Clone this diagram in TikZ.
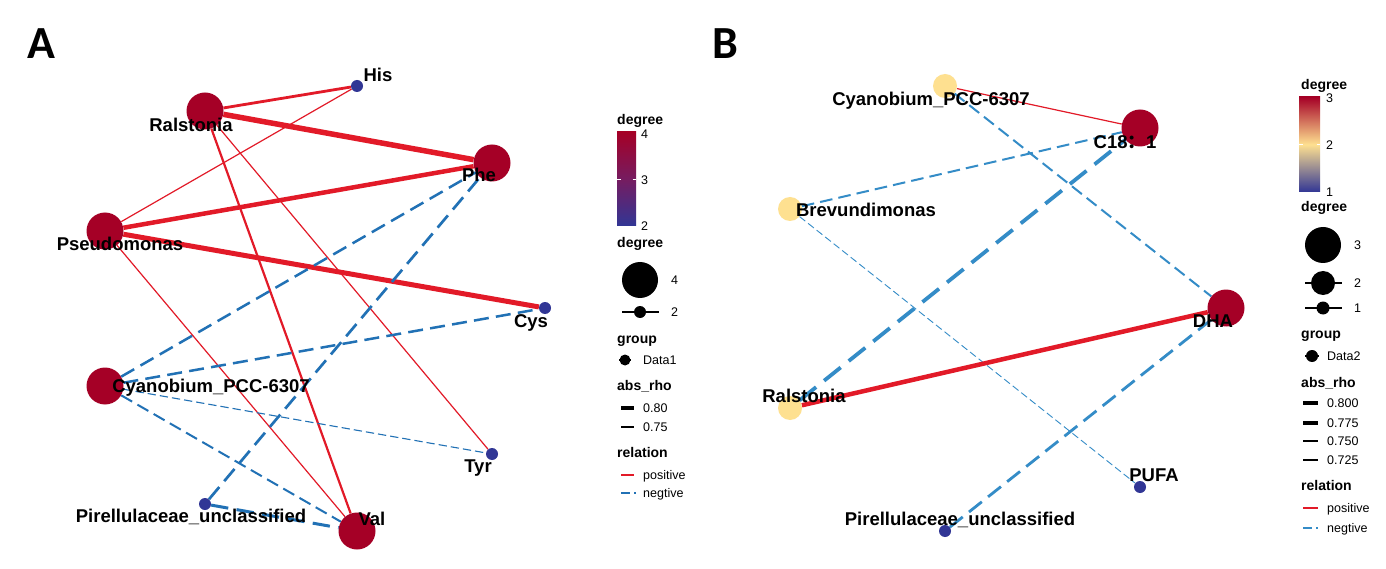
\documentclass[tikz,border=0pt]{standalone}
\usepackage{fontspec}
\setmainfont{Liberation Sans}
\newfontfamily\panelfont{Carlito}
\newfontfamily\cjk{Noto Sans CJK SC}
\usetikzlibrary{backgrounds}
\definecolor{hubred}{RGB}{165, 0, 38}
\definecolor{leafblue}{RGB}{49, 54, 149}
\definecolor{midyellow}{RGB}{254, 224, 144}
\definecolor{midpurple}{RGB}{118, 28, 96}
\definecolor{posred}{RGB}{226, 26, 40}
\definecolor{negblueA}{RGB}{33, 113, 181}
\definecolor{negblueB}{RGB}{52, 140, 199}

\begin{document}
\begin{tikzpicture}[
    x=1pt, y=-1pt,
    bignode/.style={circle, fill=hubred, inner sep=0pt, minimum size=37pt},
    midnode/.style={circle, fill=midyellow, inner sep=0pt, minimum size=24pt},
    smallnode/.style={circle, fill=leafblue, inner sep=0pt, minimum size=12pt},
    nodelab/.style={font=\fontsize{18.5}{20}\selectfont\bfseries, inner sep=0pt,
                    text height=13.2pt, text depth=0pt},
    posedge/.style={draw=posred, line width=#1},
    negedge/.style={draw=negblueA, line width=#1,
                    dash pattern=on 3pt+4.8*#1 off 1.5pt+2.3*#1},
    negedgeB/.style={negedge=#1, draw=negblueB},
    legtitle/.style={font=\fontsize{14}{16}\selectfont\bfseries, anchor=west,
                     inner sep=0pt, text height=10pt, text depth=0pt},
    legtext/.style={font=\fontsize{12.5}{14}\selectfont, anchor=west,
                    inner sep=0pt, text height=9pt, text depth=0pt},
    keydot/.style={circle, fill=black, inner sep=0pt, minimum size=#1},
    panel/.style={font=\panelfont\fontsize{46}{48}\selectfont\bfseries, inner sep=0pt,
                  text height=29pt, text depth=0pt}
]
\useasboundingbox (0,0) rectangle (1386,569);
\begin{scope}[on background layer]
    \fill[white] (0,0) rectangle (1386,569);
\end{scope}

% Panel A
\node[panel] (panelA) at (41,44) {A};

\node[smallnode] (heA) at (357,86) {};
\node[bignode] (raA) at (205,111) {};
\node[bignode] (phA) at (492,163) {};
\node[bignode] (psA) at (105,231) {};
\node[smallnode] (csA) at (545,308) {};
\node[bignode] (cyA) at (105,386) {};
\node[smallnode] (tyA) at (492,454) {};
\node[smallnode] (piA) at (205,504) {};
\node[bignode] (vaA) at (357,531) {};

\begin{scope}[on background layer]
    \draw[posedge=5.5pt] (raA) -- (phA);
    \draw[posedge=4.5pt] (psA) -- (phA);
    \draw[posedge=5pt] (psA) -- (csA);
    \draw[posedge=2.8pt] (raA) -- (heA);
    \draw[posedge=1.2pt] (psA) -- (heA);
    \draw[posedge=2.2pt] (raA) -- (vaA);
    \draw[posedge=1.2pt] (raA) -- (tyA);
    \draw[posedge=1.2pt] (psA) -- (vaA);
    \draw[negedge=2.5pt] (cyA) -- (phA);
    \draw[negedge=2.5pt] (cyA) -- (csA);
    \draw[negedge=1.1pt] (cyA) -- (tyA);
    \draw[negedge=2pt] (cyA) -- (vaA);
    \draw[negedge=2.7pt] (piA) -- (phA);
    \draw[negedge=3pt] (piA) -- (vaA);
\end{scope}

\node[nodelab] (heA-lab) at (378,75) {His};
\node[nodelab] (raA-lab) at (191,125) {Ralstonia};
\node[nodelab] (phA-lab) at (479,175) {Phe};
\node[nodelab] (psA-lab) at (120,244) {Pseudomonas};
\node[nodelab] (csA-lab) at (531,321) {Cys};
\node[nodelab] (cyA-lab) at (211,386) {Cyanobium\_PCC-6307};
\node[nodelab] (tyA-lab) at (478,466) {Tyr};
\node[nodelab] (piA-lab) at (191,516) {Pirellulaceae\_unclassified};
\node[nodelab] (vaA-lab) at (372,519) {Val};

% Legend A
\node[legtitle] (colA-title) at (617,120) {degree};
\shade[top color=hubred, bottom color=leafblue, middle color=midpurple] (617,132) rectangle (636,226);
\draw[white, line width=0.6pt] (617,179) -- (620.5,179) (632.5,179) -- (636,179);
\node[legtext] (colA-4) at (641,134) {4};
\node[legtext] (colA-3) at (641,180) {3};
\node[legtext] (colA-2) at (641,226) {2};

\node[legtitle] (sizeA-title) at (617,243) {degree};
\node[keydot=36pt] (sizeA-4) at (640,280) {};
\node[legtext] (sizeA-4-lab) at (671,280) {4};
\draw[line width=1.2pt] (622,312) -- (659,312);
\node[keydot=12pt] (sizeA-2) at (640,312) {};
\node[legtext] (sizeA-2-lab) at (671,312) {2};

\node[legtitle] (groupA-title) at (617,338) {group};
\draw[line width=1.2pt] (619,360) -- (631,360);
\node[keydot=11pt] (groupA-dot) at (625,360) {};
\node[legtext] (groupA-lab) at (643,360) {Data1};

\node[legtitle] (rhoA-title) at (617,385) {abs\_rho};
\draw[line width=4pt] (621,408) -- (634,408);
\node[legtext] (rhoA-80) at (643,408) {0.80};
\draw[line width=2.8pt] (621,427) -- (634,427);
\node[legtext] (rhoA-75) at (643,427) {0.75};

\node[legtitle] (relA-title) at (617,452) {relation};
\draw[posedge=1.2pt] (621,475) -- (634,475);
\node[legtext] (relA-pos) at (643,475) {positive};
\draw[negedge=1.2pt] (621,493) -- (636,493);
\node[legtext] (relA-neg) at (643,493) {negtive};

% Panel B
\node[panel] (panelB) at (725,44) {B};

\node[midnode] (cyB) at (945,86) {};
\node[bignode] (c18B) at (1140,128) {};
\node[midnode] (brB) at (790,209) {};
\node[bignode] (dhB) at (1226,308) {};
\node[midnode] (raB) at (790,408) {};
\node[smallnode] (puB) at (1140,487) {};
\node[smallnode] (piB) at (945,531) {};

\begin{scope}[on background layer]
    \draw[posedge=1.2pt] (cyB) -- (c18B);
    \draw[negedgeB=2pt] (cyB) -- (dhB);
    \draw[negedgeB=2pt] (brB) -- (c18B);
    \draw[negedgeB=0.9pt] (brB) -- (puB);
    \draw[negedgeB=3.8pt] (raB) -- (c18B);
    \draw[posedge=4.5pt] (raB) -- (dhB);
    \draw[negedgeB=2.8pt] (piB) -- (dhB);
\end{scope}

\node[nodelab] (cyB-lab) at (931,99) {Cyanobium\_PCC-6307};
\node[nodelab] (c18B-lab) at (1125,142) {C18{\cjk\bfseries ：}1};
\node[nodelab] (brB-lab) at (866,210) {Brevundimonas};
\node[nodelab] (dhB-lab) at (1213,321) {DHA};
\node[nodelab] (raB-lab) at (804,396) {Ralstonia};
\node[nodelab] (puB-lab) at (1154,475) {PUFA};
\node[nodelab] (piB-lab) at (960,519) {Pirellulaceae\_unclassified};

% Legend B
\node[legtitle] (colB-title) at (1301,85) {degree};
\shade[top color=hubred, bottom color=leafblue, middle color=midyellow] (1299,97) rectangle (1320,192);
\draw[white, line width=0.6pt] (1299,144.5) -- (1302.5,144.5) (1316.5,144.5) -- (1320,144.5);
\node[legtext] (colB-3) at (1326,98) {3};
\node[legtext] (colB-2) at (1326,145) {2};
\node[legtext] (colB-1) at (1326,192) {1};

\node[legtitle] (sizeB-title) at (1301,207) {degree};
\node[keydot=36pt] (sizeB-3) at (1323,245) {};
\node[legtext] (sizeB-3-lab) at (1354,245) {3};
\draw[line width=1.2pt] (1305,283) -- (1342,283);
\node[keydot=24pt] (sizeB-2) at (1323,283) {};
\node[legtext] (sizeB-2-lab) at (1354,283) {2};
\draw[line width=1.2pt] (1305,308) -- (1342,308);
\node[keydot=13pt] (sizeB-1) at (1323,308) {};
\node[legtext] (sizeB-1-lab) at (1354,308) {1};

\node[legtitle] (groupB-title) at (1301,333) {group};
\draw[line width=1.2pt] (1305,356) -- (1319,356);
\node[keydot=12pt] (groupB-dot) at (1312,356) {};
\node[legtext] (groupB-lab) at (1327,356) {Data2};

\node[legtitle] (rhoB-title) at (1301,382) {abs\_rho};
\draw[line width=4.5pt] (1303,403) -- (1318,403);
\node[legtext] (rhoB-800) at (1327,403) {0.800};
\draw[line width=3.8pt] (1303,423) -- (1318,423);
\node[legtext] (rhoB-775) at (1327,423) {0.775};
\draw[line width=2.8pt] (1303,441) -- (1318,441);
\node[legtext] (rhoB-750) at (1327,441) {0.750};
\draw[line width=1.8pt] (1303,460) -- (1318,460);
\node[legtext] (rhoB-725) at (1327,460) {0.725};

\node[legtitle] (relB-title) at (1301,485) {relation};
\draw[posedge=1.2pt] (1303,508) -- (1318,508);
\node[legtext] (relB-pos) at (1327,508) {positive};
\draw[negedgeB=1.2pt] (1303,528) -- (1318,528);
\node[legtext] (relB-neg) at (1327,528) {negtive};

\end{tikzpicture}
\end{document}
